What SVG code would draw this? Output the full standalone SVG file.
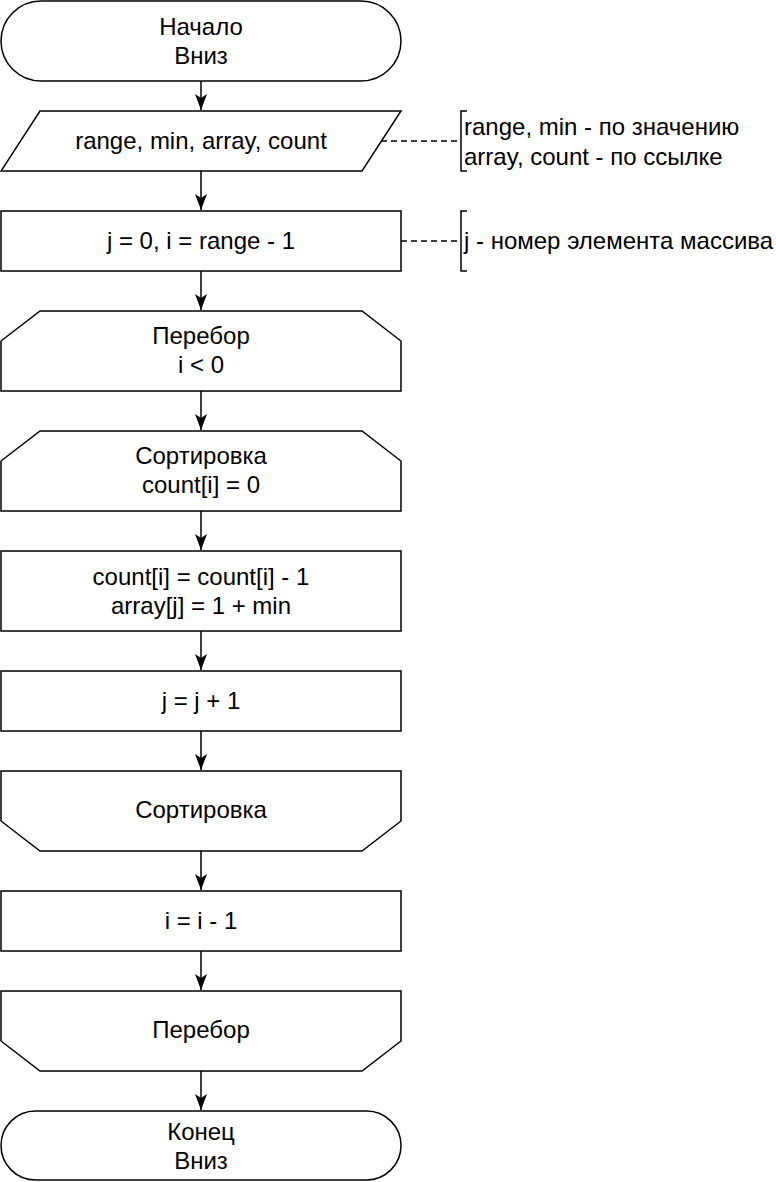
<svg xmlns="http://www.w3.org/2000/svg" width="776" height="1182" viewBox="0 0 776 1182">
  <defs>
    <style>
      .shape { fill: #ffffff; stroke: #000000; stroke-width: 1.5; }
      .lbl { font-family: "Liberation Sans", Arial, sans-serif; font-size: 24px; fill: #000000; text-anchor: middle; }
      .note { font-family: "Liberation Sans", Arial, sans-serif; font-size: 24px; fill: #000000; text-anchor: start; }
      .edge { fill: none; stroke: #000000; stroke-width: 1.5; }
      .dash { fill: none; stroke: #000000; stroke-width: 1.5; stroke-dasharray: 6 4; }
      .brk { fill: none; stroke: #000000; stroke-width: 1.5; }
    </style>
    <marker id="arrow" viewBox="0 0 16 14" refX="16" refY="7" markerWidth="16" markerHeight="14" markerUnits="userSpaceOnUse" orient="auto">
      <path d="M0,1 L16,7 L0,13 L4,7 Z" fill="#000000"/>
    </marker>
  </defs>
  <rect width="776" height="1182" fill="#ffffff"/>

  <!-- connectors -->
  <g id="connectors">
    <line class="edge" x1="201" y1="81" x2="201" y2="110" marker-end="url(#arrow)"/>
    <line class="edge" x1="201" y1="171" x2="201" y2="210" marker-end="url(#arrow)"/>
    <line class="edge" x1="201" y1="271" x2="201" y2="310" marker-end="url(#arrow)"/>
    <line class="edge" x1="201" y1="391" x2="201" y2="430" marker-end="url(#arrow)"/>
    <line class="edge" x1="201" y1="511" x2="201" y2="550" marker-end="url(#arrow)"/>
    <line class="edge" x1="201" y1="631" x2="201" y2="670" marker-end="url(#arrow)"/>
    <line class="edge" x1="201" y1="731" x2="201" y2="770" marker-end="url(#arrow)"/>
    <line class="edge" x1="201" y1="851" x2="201" y2="890" marker-end="url(#arrow)"/>
    <line class="edge" x1="201" y1="951" x2="201" y2="990" marker-end="url(#arrow)"/>
    <line class="edge" x1="201" y1="1071" x2="201" y2="1110" marker-end="url(#arrow)"/>
    <!-- comment links -->
    <line class="dash" x1="381" y1="141" x2="461" y2="141"/>
    <line class="dash" x1="401" y1="241" x2="461" y2="241"/>
  </g>

  <g id="start">
    <rect class="shape" x="1" y="1" width="400" height="80" rx="40" ry="40"/>
    <text class="lbl" x="201" y="35">Начало</text>
    <text class="lbl" x="201" y="64">Вниз</text>
  </g>

  <g id="input">
    <polygon class="shape" points="40,111 401,111 362,171 1,171"/>
    <text class="lbl" x="201" y="149">range, min, array, count</text>
  </g>

  <g id="note-params">
    <path class="brk" d="M467,111 L461,111 L461,171 L467,171"/>
    <text class="note" x="464" y="135">range, min - по значению</text>
    <text class="note" x="464" y="165">array, count - по ссылке</text>
  </g>

  <g id="init">
    <rect class="shape" x="1" y="211" width="400" height="60"/>
    <text class="lbl" x="201" y="249">j = 0, i = range - 1</text>
  </g>

  <g id="note-j">
    <path class="brk" d="M467,211 L461,211 L461,271 L467,271"/>
    <text class="note" x="464" y="249">j - номер элемента массива</text>
  </g>

  <g id="loop-outer-start">
    <path class="shape" d="M40,311 L362,311 L401,341 L401,391 L1,391 L1,341 Z"/>
    <text class="lbl" x="201" y="344">Перебор</text>
    <text class="lbl" x="201" y="373">i &lt; 0</text>
  </g>

  <g id="loop-inner-start">
    <path class="shape" d="M40,431 L362,431 L401,461 L401,511 L1,511 L1,461 Z"/>
    <text class="lbl" x="201" y="464">Сортировка</text>
    <text class="lbl" x="201" y="493">count[i] = 0</text>
  </g>

  <g id="assign">
    <rect class="shape" x="1" y="551" width="400" height="80"/>
    <text class="lbl" x="201" y="585">count[i] = count[i] - 1</text>
    <text class="lbl" x="201" y="614">array[j] = 1 + min</text>
  </g>

  <g id="inc-j">
    <rect class="shape" x="1" y="671" width="400" height="60"/>
    <text class="lbl" x="201" y="709">j = j + 1</text>
  </g>

  <g id="loop-inner-end">
    <path class="shape" d="M1,771 L401,771 L401,821 L362,851 L40,851 L1,821 Z"/>
    <text class="lbl" x="201" y="818">Сортировка</text>
  </g>

  <g id="dec-i">
    <rect class="shape" x="1" y="891" width="400" height="60"/>
    <text class="lbl" x="201" y="929">i = i - 1</text>
  </g>

  <g id="loop-outer-end">
    <path class="shape" d="M1,991 L401,991 L401,1041 L362,1071 L40,1071 L1,1041 Z"/>
    <text class="lbl" x="201" y="1038">Перебор</text>
  </g>

  <g id="end">
    <rect class="shape" x="1" y="1111" width="400" height="69" rx="34.5" ry="34.5"/>
    <text class="lbl" x="201" y="1140">Конец</text>
    <text class="lbl" x="201" y="1169">Вниз</text>
  </g>
</svg>
